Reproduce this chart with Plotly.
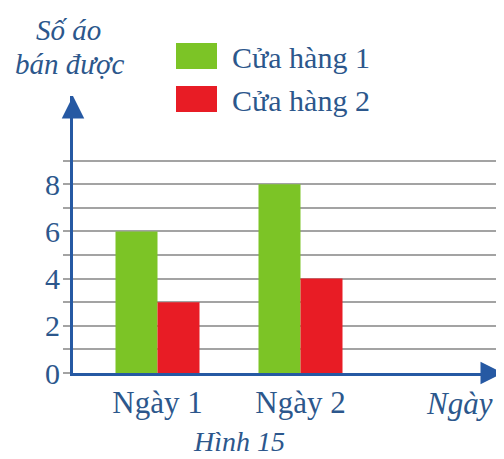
import plotly.graph_objects as go

# ---- data ----
days = ["Ngày 1", "Ngày 2"]
store1 = [6, 8]
store2 = [3, 4]
series_names = ["Cửa hàng 1", "Cửa hàng 2"]
y_tickvals = list(range(10))
y_ticktext = ["0", "", "2", "", "4", "", "6", "", "8", ""]

# ---- style ----
OFF = 8  # page body margin
W, H = 504 - OFF, 459 - OFF
L, R, T = 73 - OFF, 0, 96 - OFF
PLOT_BOTTOM = 373 - OFF
B = H - PLOT_BOTTOM
PW, PH = W - L - R, H - T - B
GREEN = "#7cc426"
RED = "#e81c25"
TEXT = "#2c578c"
AXIS = "#2659a3"
GRID = "#a3a3a3"
FONT = "Liberation Serif, Times New Roman, serif"
UNIT_X = 143.0
UNIT_Y = 23.6
BAR_W = 42 / UNIT_X


def pxx(x):
    return (x - OFF - L) / PW


def pxy(y):
    return (PLOT_BOTTOM - (y - OFF)) / PH


x_left = -(157.5 - 73) / UNIT_X
x_right = x_left + PW / UNIT_X
y_top = PH / UNIT_Y

fig = go.Figure()
fig.add_trace(go.Bar(x=days, y=store1, name=series_names[0], marker_color=GREEN,
                     marker_line_width=0, width=BAR_W, offset=-BAR_W))
fig.add_trace(go.Bar(x=days, y=store2, name=series_names[1], marker_color=RED,
                     marker_line_width=0, width=BAR_W, offset=0))

fig.update_layout(
    width=W, height=H,
    margin=dict(l=L, r=R, t=T, b=B, pad=0),
    paper_bgcolor="white", plot_bgcolor="white",
    showlegend=False,
    font=dict(family=FONT, color=TEXT, size=30),
)
fig.update_xaxes(
    type="category", range=[x_left, x_right],
    showline=True, linecolor=AXIS, linewidth=3,
    showgrid=False, zeroline=False, ticks="",
    tickfont=dict(family=FONT, size=31, color=TEXT),
    ticklabelstandoff=0,
)
fig.update_yaxes(
    range=[0, y_top],
    tickvals=y_tickvals, ticktext=y_ticktext,
    showline=True, linecolor=AXIS, linewidth=3,
    showgrid=True, gridcolor=GRID, gridwidth=2,
    zeroline=False,
    ticks="outside", ticklen=7, tickcolor=GRID, tickwidth=2,
    tickfont=dict(family=FONT, size=30, color=TEXT),
    ticklabelstandoff=-3,
)

# axis arrows
fig.add_annotation(xref="paper", yref="paper", x=0, y=1, ax=0, ay=22,
                   axref="pixel", ayref="pixel", text="", showarrow=True,
                   arrowhead=2, arrowsize=1.5, arrowwidth=3, arrowcolor=AXIS)
fig.add_annotation(xref="paper", yref="paper", x=1, y=0, ax=-22, ay=0,
                   axref="pixel", ayref="pixel", text="", showarrow=True,
                   arrowhead=2, arrowsize=1.5, arrowwidth=3, arrowcolor=AXIS)

# legend swatches + labels
for i, (name, col) in enumerate(zip(series_names, [GREEN, RED])):
    y0 = 43 + i * 43
    fig.add_shape(type="rect", xref="paper", yref="paper",
                  x0=pxx(176), x1=pxx(217), y0=pxy(y0 + 26), y1=pxy(y0),
                  fillcolor=col, line_width=0)
    fig.add_annotation(xref="paper", yref="paper", x=pxx(230), y=pxy(y0 + 14),
                       text=name, showarrow=False, xanchor="left", yanchor="middle",
                       font=dict(family=FONT, size=30, color=TEXT))

# axis titles and caption
fig.add_annotation(xref="paper", yref="paper", x=pxx(68), y=pxy(30),
                   text="<i>Số áo</i>", showarrow=False, xanchor="center", yanchor="middle",
                   font=dict(family=FONT, size=29, color=TEXT))
fig.add_annotation(xref="paper", yref="paper", x=pxx(70), y=pxy(64),
                   text="<i>bán được</i>", showarrow=False, xanchor="center", yanchor="middle",
                   font=dict(family=FONT, size=29, color=TEXT))
fig.add_annotation(xref="paper", yref="paper", x=pxx(459), y=pxy(403),
                   text="<i>Ngày</i>", showarrow=False, xanchor="center", yanchor="middle",
                   font=dict(family=FONT, size=31, color=TEXT))
fig.add_annotation(xref="paper", yref="paper", x=pxx(239), y=pxy(441),
                   text="<i>Hình 15</i>", showarrow=False, xanchor="center", yanchor="middle",
                   font=dict(family=FONT, size=28, color=TEXT))

fig.write_html("out.html")
